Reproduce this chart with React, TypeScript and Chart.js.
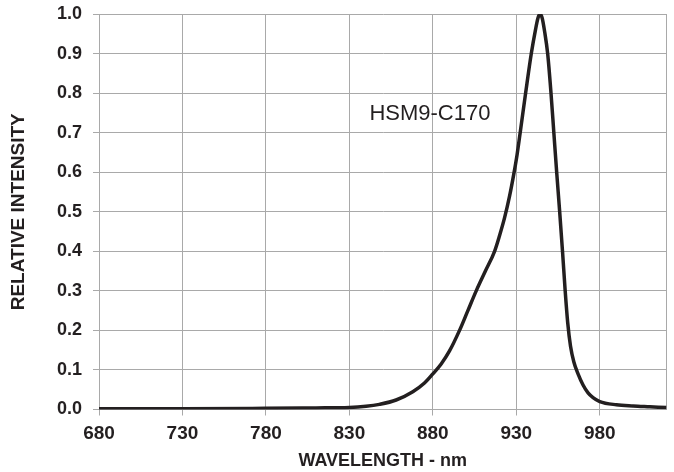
import React, { useEffect, useRef } from "react";
import { Chart, registerables } from "chart.js";

Chart.register(...registerables);

const wavelengths = [
  680, 730, 780, 810, 830, 840, 848, 858, 868, 875, 880, 885, 890, 896, 901,
  906, 911.5, 917, 920, 923, 926, 928.5, 930.5, 932.5, 935.6, 939, 941.5, 943,
  944.2, 945.5, 947, 948.8, 950.8, 952.5, 954.2, 956, 957.7, 959.3, 960.8,
  962.5, 964.5, 967, 970, 973, 976, 980, 990, 1000, 1010, 1020,
];
const intensity = [
  0.002, 0.002, 0.003, 0.004, 0.005, 0.008, 0.013, 0.024, 0.045, 0.067, 0.09,
  0.115, 0.148, 0.2, 0.25, 0.3, 0.35, 0.4, 0.44, 0.485, 0.54, 0.595, 0.645,
  0.705, 0.8, 0.9, 0.96, 0.99, 1.0, 0.99, 0.955, 0.9, 0.8, 0.7, 0.6, 0.5, 0.4,
  0.3, 0.22, 0.16, 0.12, 0.09, 0.062, 0.042, 0.03, 0.02, 0.012, 0.009, 0.007,
  0.005,
];
const xTicks = [680, 730, 780, 830, 880, 930, 980, 1020];
const xLabelTicks = [680, 730, 780, 830, 880, 930, 980];
const yTicks = [0, 0.1, 0.2, 0.3, 0.4, 0.5, 0.6, 0.7, 0.8, 0.9, 1.0];
const seriesLabel = "HSM9-C170";
const labelX = 842;
const labelY = 0.748;
const xTitle = "WAVELENGTH - nm";
const yTitle = "RELATIVE INTENSITY";

const INK = "#231f20";
const GRID = "#a9a9a9";
const FONT = "'Liberation Sans', Arial, Helvetica, sans-serif";

const labelPlugin = {
  id: "seriesLabel",
  afterDatasetsDraw(chart: any) {
    const { ctx, scales } = chart;
    const x = scales.x.getPixelForValue(labelX);
    const y = scales.y.getPixelForValue(labelY);
    ctx.save();
    ctx.font = `22px ${FONT}`;
    ctx.fillStyle = INK;
    ctx.textAlign = "left";
    ctx.textBaseline = "middle";
    ctx.fillText(seriesLabel, x, y);
    ctx.restore();
  },
};

export default function App() {
  const ref = useRef<HTMLCanvasElement>(null);
  useEffect(() => {
    if (!ref.current) return;
    const chart = new Chart(ref.current, {
      type: "line",
      data: {
        datasets: [
          {
            data: wavelengths.map((w, i) => ({ x: w, y: intensity[i] })),
            borderColor: INK,
            borderWidth: 3.5,
            pointRadius: 0,
            fill: false,
            cubicInterpolationMode: "monotone",
          },
        ],
      },
      options: {
        animation: false,
        responsive: false,
        devicePixelRatio: 1,
        events: [],
        layout: { padding: { top: 14, right: 7.5, left: 0, bottom: 0 } },
        plugins: { legend: { display: false }, tooltip: { enabled: false } },
        scales: {
          x: {
            type: "linear",
            min: 680,
            max: 1020,
            afterBuildTicks: (s: any) => {
              s.ticks = xTicks.map((v) => ({ value: v }));
            },
            afterFit: (s: any) => {
              s.height = 62.5;
              s.paddingLeft = 0;
              s.paddingRight = 0;
            },
            grid: {
              color: GRID,
              lineWidth: 1,
              tickLength: 6,
              tickColor: (c: any) =>
                c.tick && c.tick.value === 1020 ? "rgba(0,0,0,0)" : GRID,
            },
            border: { color: GRID, width: 1 },
            ticks: {
              autoSkip: false,
              maxRotation: 0,
              padding: 7,
              color: INK,
              font: { family: FONT, size: 19, weight: "bold" },
              callback: (v: any) =>
                xLabelTicks.includes(Number(v)) ? String(v) : "",
            },
            title: {
              display: true,
              text: xTitle,
              color: INK,
              font: { family: FONT, size: 18, weight: "bold" },
              padding: { top: 2, bottom: 0 },
            },
          },
          y: {
            type: "linear",
            min: 0,
            max: 1,
            afterBuildTicks: (s: any) => {
              s.ticks = yTicks.map((v) => ({ value: v }));
            },
            afterFit: (s: any) => {
              s.width = 99;
              s.paddingTop = 0;
              s.paddingBottom = 0;
            },
            grid: { color: GRID, lineWidth: 1, tickLength: 6, tickColor: GRID },
            border: { color: GRID, width: 1 },
            ticks: {
              autoSkip: false,
              padding: 11,
              color: INK,
              font: { family: FONT, size: 18, weight: "bold" },
              callback: (v: any) => Number(v).toFixed(1),
            },
            title: {
              display: true,
              text: yTitle,
              color: INK,
              font: { family: FONT, size: 19, weight: "bold" },
              padding: { top: 7, bottom: 0 },
            },
          },
        },
      },
      plugins: [labelPlugin],
    } as any);
    return () => chart.destroy();
  }, []);
  return (
    <div style={{ position: "fixed", left: 0, top: 0, width: 674, height: 472, background: "#fff" }}>
      <canvas ref={ref} width={674} height={472} style={{ display: "block" }} />
    </div>
  );
}
